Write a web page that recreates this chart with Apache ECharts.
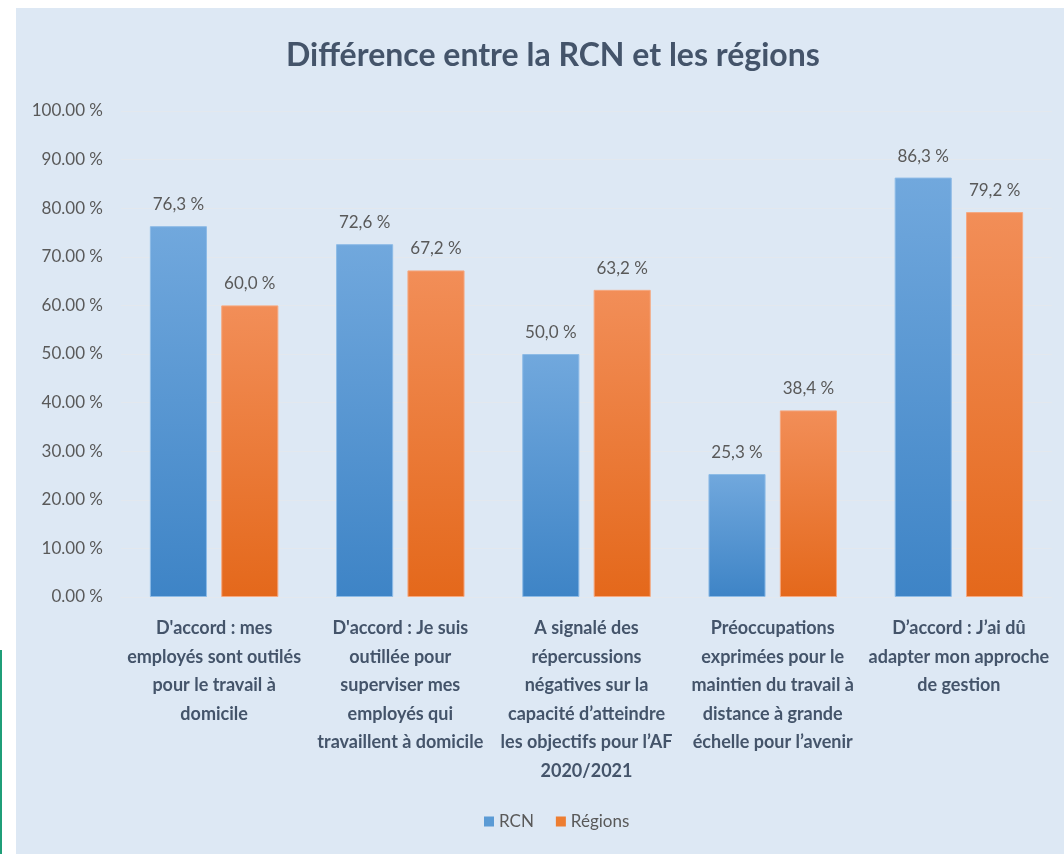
<!DOCTYPE html>
<html>
<head>
<meta charset="utf-8">
<script src="https://cdn.jsdelivr.net/npm/echarts@6/dist/echarts.min.js"></script>
<style>
  html, body { margin: 0; padding: 0; background: #fff; }
  #main { position: absolute; left: 16px; top: 8px; width: 1048px; height: 846px; }
  #edge { position: absolute; left: 0; top: 650px; width: 2px; height: 204px; background: #1f9e78; }
</style>
</head>
<body>
<div id="edge"></div>
<div id="main"></div>
<script>
// categories (line breaks as in the source picture)
const categories = [
  "D'accord : mes\nemployés sont outilés\npour le travail à\ndomicile",
  "D'accord : Je suis\noutillée pour\nsuperviser mes\nemployés qui\ntravaillent à domicile",
  "A signalé des\nrépercussions\nnégatives sur la\ncapacité d’atteindre\nles objectifs pour l’AF\n2020/2021",
  "Préoccupations\nexprimées pour le\nmaintien du travail à\ndistance à grande\néchelle pour l’avenir",
  "D’accord : J’ai dû\nadapter mon approche\nde gestion"
]
const rcn = [76.3, 72.6, 50.0, 25.3, 86.3]
const regions = [60.0, 67.2, 63.2, 38.4, 79.2]

const chart = echarts.init(document.getElementById('main'))

// gradient par barre (clair en haut, foncé en bas)
function grad (top, bottom) {
  return new echarts.graphic.LinearGradient(0, 0, 0, 1, [
    { offset: 0, color: top },
    { offset: 1, color: bottom }
  ])
}

const labelOpt = {
  show: true,
  position: 'top',
  distance: 13,
  fontFamily: 'Lato',
  fontSize: 17,
  color: '#595959',
  formatter: (p) => p.value.toFixed(1).replace('.', ',') + ' %'
}

const option = {
  backgroundColor: '#dde8f4',
  title: {
    text: 'Différence entre la RCN et les régions',
    left: 265,
    top: 27,
    textStyle: {
      fontFamily: 'Lato',
      fontWeight: 'bold',
      fontSize: 32,
      color: '#44546a'
    }
  },
  legend: {
    bottom: 19,
    left: 463,
    itemWidth: 10,
    itemHeight: 10,
    itemGap: 22,
    icon: 'rect',
    textStyle: { fontFamily: 'Lato', fontSize: 17, color: '#595959' },
    data: [
      { name: 'RCN', itemStyle: { color: '#5b9bd5', borderWidth: 0 } },
      { name: 'Régions', itemStyle: { color: '#ed7d31', borderWidth: 0 } }
    ]
  },
  grid: {
    left: 105,
    right: 12,
    top: 103,
    bottom: 257,
    containLabel: false
  },
  xAxis: {
    type: 'category',
    data: categories,
    axisLine: { show: true, lineStyle: { color: '#e3e8ee' } },
    axisTick: { show: false },
    axisLabel: {
      interval: 0,
      margin: 17,
      fontFamily: 'Lato',
      fontWeight: 'bold',
      fontSize: 18,
      lineHeight: 28.5,
      color: '#44546a'
    }
  },
  yAxis: {
    type: 'value',
    min: 0,
    max: 100,
    interval: 10,
    axisLine: { show: false },
    axisTick: { show: false },
    splitLine: { lineStyle: { color: '#e3e8ee' } },
    axisLabel: {
      margin: 18,
      fontFamily: 'Lato',
      fontSize: 17,
      color: '#595959',
      formatter: (v) => v.toFixed(2) + ' %'
    }
  },
  series: [
    {
      name: 'RCN',
      type: 'bar',
      data: rcn,
      barGap: '25%',
      barCategoryGap: '31%',
      itemStyle: {
        color: grad('#71a8dd', '#3e84c6'),
        borderColor: '#8dbbe6',
        borderWidth: 1
      },
      label: labelOpt
    },
    {
      name: 'Régions',
      type: 'bar',
      data: regions,
      barGap: '25%',
      barCategoryGap: '31%',
      itemStyle: {
        color: grad('#f28e58', '#e4681b'),
        borderColor: '#f5a880',
        borderWidth: 1
      },
      label: labelOpt
    }
  ]
}
chart.setOption(option)
</script>
</body>
</html>
